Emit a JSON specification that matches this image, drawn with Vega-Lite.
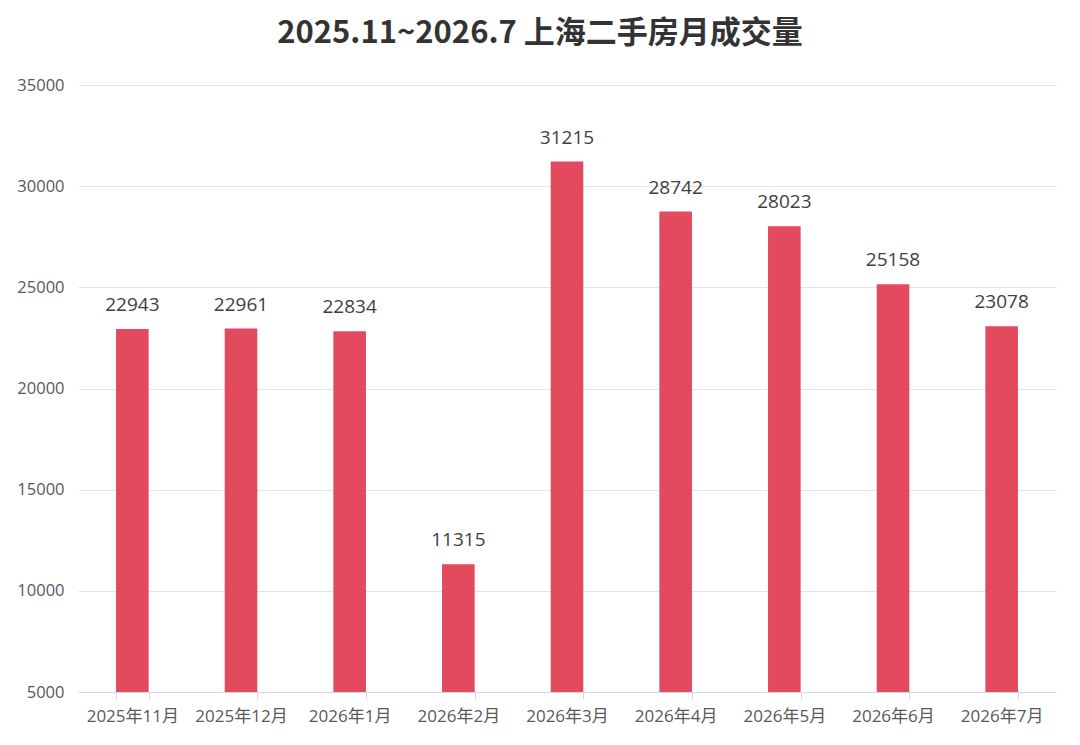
{
  "$schema": "https://vega.github.io/schema/vega-lite/v6.json",
  "autosize": "none",
  "width": 978,
  "height": 607,
  "padding": {"left": 78, "top": 85, "right": 24, "bottom": 53},
  "background": "white",
  "config": {
    "view": {"stroke": null},
    "font": "Open Sans, Noto Sans CJK SC"
  },
  "title": {
    "text": "2025.11~2026.7 上海二手房月成交量",
    "fontSize": 31,
    "fontWeight": "bold",
    "color": "#333333",
    "anchor": "middle",
    "dx": -27,
    "offset": 27,
    "font": "Noto Sans CJK SC"
  },
  "data": {
    "values": [
      {"month": "2025年11月", "volume": 22943},
      {"month": "2025年12月", "volume": 22961},
      {"month": "2026年1月", "volume": 22834},
      {"month": "2026年2月", "volume": 11315},
      {"month": "2026年3月", "volume": 31215},
      {"month": "2026年4月", "volume": 28742},
      {"month": "2026年5月", "volume": 28023},
      {"month": "2026年6月", "volume": 25158},
      {"month": "2026年7月", "volume": 23078}
    ]
  },
  "encoding": {
    "x": {
      "field": "month",
      "type": "nominal",
      "sort": null,
      "title": null,
      "scale": {"paddingInner": 0.7, "paddingOuter": 0.35},
      "axis": {
        "labelAngle": 0,
        "labelFontSize": 17,
        "labelFont": "Open Sans, Noto Sans CJK SC",
        "labelColor": "#595959",
        "labelPadding": 9,
        "tickBand": "extent",
        "tickColor": "#d9d9d9",
        "tickSize": 7,
        "domainColor": "#d9d9d9"
      }
    },
    "y": {
      "field": "volume",
      "type": "quantitative",
      "title": null,
      "scale": {"domain": [5000, 35000], "zero": false},
      "axis": {
        "values": [5000, 10000, 15000, 20000, 25000, 30000, 35000],
        "format": "d",
        "labelFontSize": 16.5,
        "labelFont": "Open Sans",
        "labelColor": "#595959",
        "labelPadding": 14,
        "domain": false,
        "ticks": false,
        "gridColor": "#e3e3e3"
      }
    }
  },
  "layer": [
    {
      "mark": {"type": "bar", "color": "#E34A5E"},
      "encoding": {"y2": {"datum": 5000}}
    },
    {
      "mark": {"type": "text", "dy": -24, "fontSize": 19, "font": "Open Sans", "color": "#404040", "baseline": "middle"},
      "encoding": {"text": {"field": "volume", "type": "quantitative", "format": "d"}}
    }
  ]
}
